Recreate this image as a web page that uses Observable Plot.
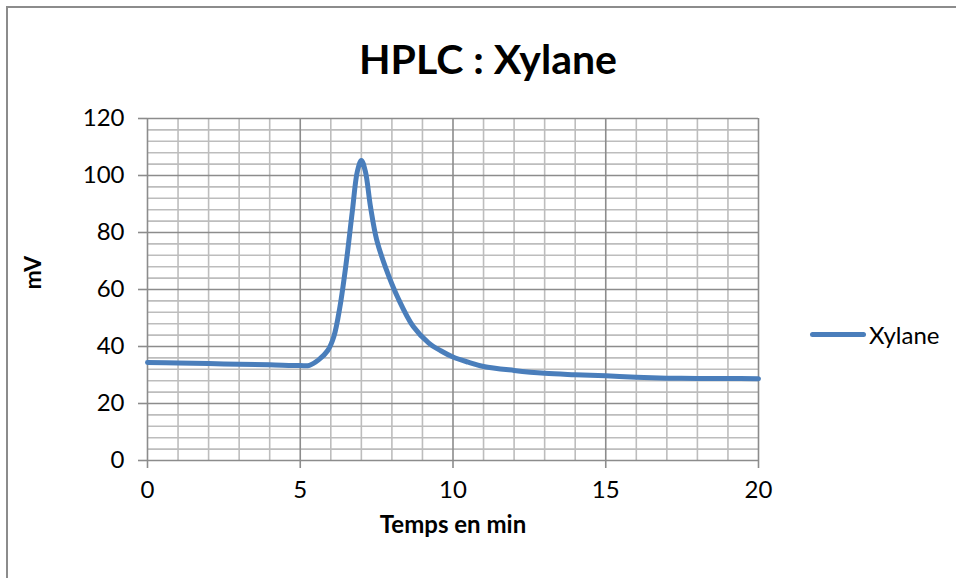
<!DOCTYPE html>
<html>
<head>
<meta charset="utf-8">
<script src="https://cdn.jsdelivr.net/npm/d3@7"></script>
<script src="https://cdn.jsdelivr.net/npm/@observablehq/plot@0.6"></script>
<style>
  html, body { margin: 0; padding: 0; background: #fff; }
  #wrap { position: relative; width: 956px; height: 578px; overflow: hidden; font-family: Lato, "Open Sans", sans-serif; }
  #frame { position: absolute; left: 6px; top: 6px; width: 1000px; height: 700px; border-left: 2px solid #8c8c8c; border-top: 2px solid #8c8c8c; box-sizing: border-box; }
  #title { position: absolute; left: 0; width: 976px; top: 29px; text-align: center; font-weight: bold; font-size: 41px; color: #000; line-height: 60px; }
  #chart { position: absolute; left: 0; top: 100px; }
  #legend { position: absolute; left: 810px; top: 320px; display: flex; align-items: center; font-size: 24px; color: #000; }
  #legend .sw { width: 56px; height: 5px; border-radius: 3px; background: #4a7ebb; margin-right: 3px; }
</style>
</head>
<body>
<div id="wrap">
  <div id="frame"></div>
  <div id="title">HPLC : Xylane</div>
  <div id="chart"></div>
  <div id="legend"><span class="sw"></span><span id="legtext">Xylane</span></div>
</div>
<script>
const seriesName = "Xylane";
const timeMin = [0, 1, 2, 3, 4, 5, 5.3, 5.6, 5.9, 6.1, 6.3, 6.5, 6.7, 6.87, 7.0, 7.13, 7.3, 7.5, 7.8, 8.2, 8.7, 9.2, 9.6, 10, 10.5, 11, 12, 13, 14, 15, 16, 17, 18, 19, 20];
const mV = [34.4, 34.2, 34.0, 33.8, 33.6, 33.3, 33.4, 35.3, 38.6, 43.5, 54, 69, 87, 101.5, 105.3, 101.5, 89, 77.5, 67.5, 57, 47, 41.3, 38.5, 36.3, 34.5, 33, 31.6, 30.6, 30.1, 29.7, 29.2, 28.9, 28.8, 28.8, 28.7];
const xMajorTicks = [0, 5, 10, 15, 20];
const yMajorTicks = [0, 20, 40, 60, 80, 100, 120];
const xMinor = d3.range(0, 21, 1).filter(v => v % 5 !== 0);
const yMinor = d3.range(0, 121, 4).filter(v => v % 20 !== 0);
const xTitle = "Temps en min";
const yTitle = "mV";

const data = timeMin.map((t, i) => ({t, v: mV[i]}));

const chart = Plot.plot({
  width: 956,
  height: 478,
  marginTop: 18,
  marginBottom: 118,
  marginLeft: 147,
  marginRight: 198,
  style: {fontFamily: "Lato, 'Open Sans', sans-serif", fontSize: "24px", background: "transparent", overflow: "visible"},
  x: {domain: [0, 20]},
  y: {domain: [0, 120]},
  marks: [
    Plot.ruleX(xMinor, {stroke: "#bdbdbd", strokeWidth: 1.6}),
    Plot.ruleY(yMinor, {stroke: "#bdbdbd", strokeWidth: 1.6}),
    Plot.ruleX(xMajorTicks, {stroke: "#8c8c8c", strokeWidth: 1.6}),
    Plot.ruleY(yMajorTicks, {stroke: "#8c8c8c", strokeWidth: 1.6}),
    Plot.axisX({ticks: xMajorTicks, tickSize: 8, tickPadding: 12, fontSize: 24, label: null, stroke: "#8c8c8c", strokeWidth: 1.6, color: "#000", tickFormat: d => String(d)}),
    Plot.axisY({ticks: yMajorTicks, tickSize: 9, tickPadding: 14, fontSize: 24, label: null, stroke: "#8c8c8c", strokeWidth: 1.6, color: "#000", tickFormat: d => String(d)}),
    Plot.line(data, {x: "t", y: "v", stroke: "#4a7ebb", strokeWidth: 5, curve: "catmull-rom", strokeLinecap: "round", strokeLinejoin: "round"}),
    Plot.text([xTitle], {frameAnchor: "bottom", dy: 72, fontSize: 24, fontWeight: "bold", fill: "#000"}),
    Plot.text([yTitle], {frameAnchor: "left", dx: -114, rotate: -90, fontSize: 23, fontWeight: "bold", fill: "#000"})
  ]
});
document.getElementById("chart").appendChild(chart);
document.getElementById("legtext").textContent = seriesName;
</script>
</body>
</html>
